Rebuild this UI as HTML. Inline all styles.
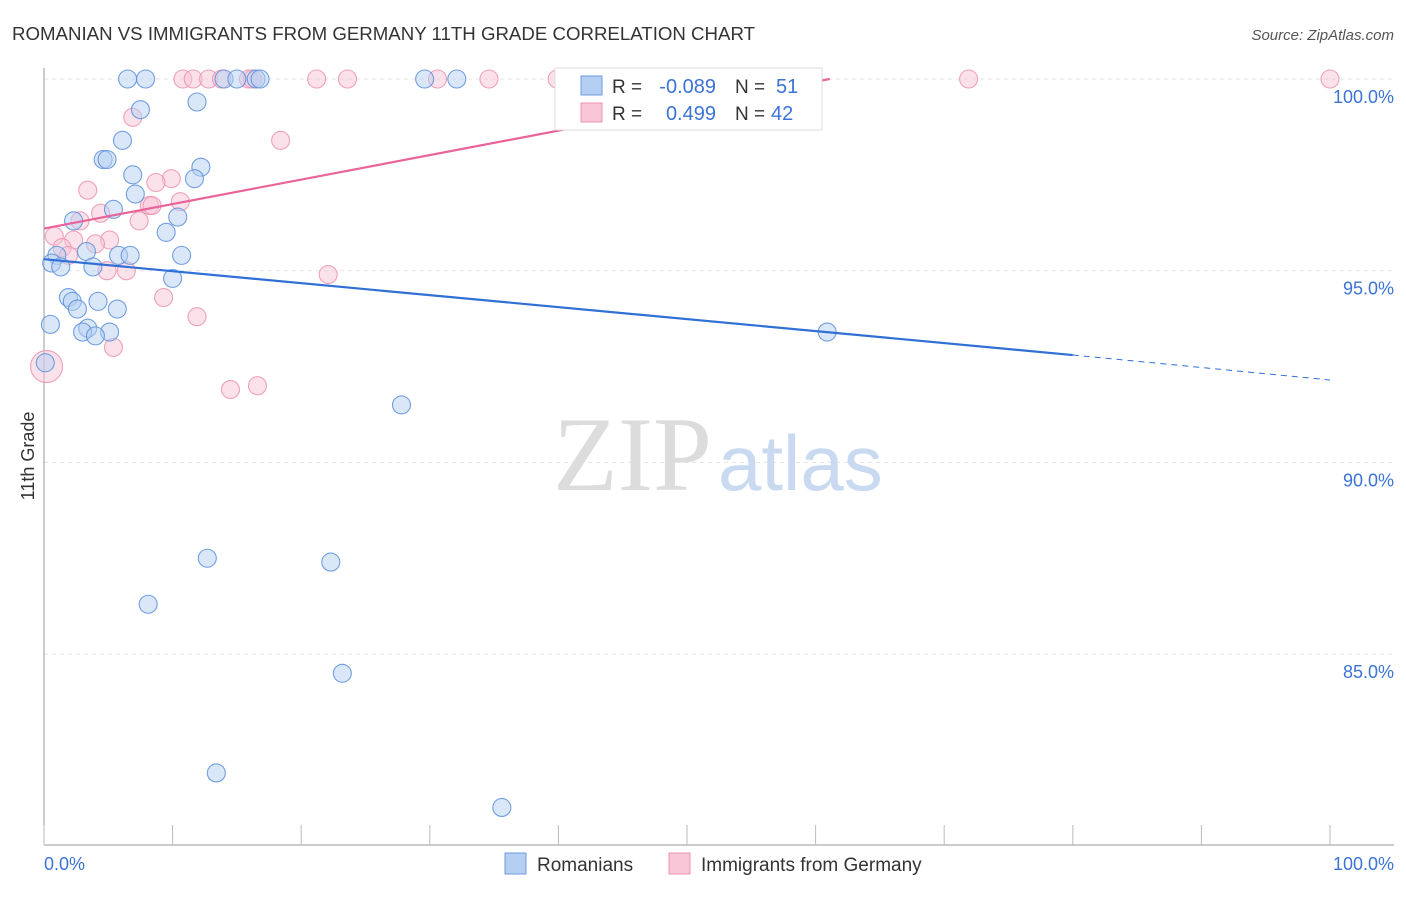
<!DOCTYPE html>
<html><head><meta charset="utf-8"><style>
body{margin:0;background:#fff;font-family:"Liberation Sans",sans-serif}
</style></head><body>
<svg width="1406" height="892" viewBox="0 0 1406 892" xmlns="http://www.w3.org/2000/svg">
<text x="12" y="40" font-size="18" fill="#333" textLength="743" lengthAdjust="spacingAndGlyphs">ROMANIAN VS IMMIGRANTS FROM GERMANY 11TH GRADE CORRELATION CHART</text>
<text x="1394" y="40" font-size="15" fill="#555" text-anchor="end" font-style="italic">Source: ZipAtlas.com</text>
<g id="grid"></g>
<text x="553" y="490" font-size="106" fill="#dcdcdc" font-family="Liberation Serif,serif">ZIP</text>
<text x="718" y="490" font-size="78" fill="#c9d9f0">atlas</text>
<line x1="44" y1="68" x2="44" y2="845" stroke="#999"/>
<line x1="44" y1="845" x2="1394" y2="845" stroke="#999"/>
<g id="ticks"></g>
<g id="pts"></g>
<g id="lines"></g>
<text x="34" y="456" font-size="18" fill="#333" transform="rotate(-90 34 456)" text-anchor="middle">11th Grade</text>
<text x="44" y="870" font-size="18" fill="#3b73d6">0.0%</text>
<text x="1394" y="870" font-size="18" fill="#3b73d6" text-anchor="end">100.0%</text>
<g>
<rect x="555" y="68" width="267" height="62" fill="#fff" stroke="#ddd"/>
<rect x="581" y="76" width="21" height="19" fill="#b5cff2" stroke="#6c9be0"/>
<rect x="581" y="103" width="21" height="19" fill="#f8c6d6" stroke="#ec92b0"/>
<text x="612" y="93" font-size="19" fill="#333">R =</text>
<text x="716" y="93" font-size="20" fill="#3b73d6" text-anchor="end">-0.089</text>
<text x="735" y="93" font-size="19" fill="#333">N =</text>
<text x="776" y="93" font-size="20" fill="#3b73d6">51</text>
<text x="612" y="120" font-size="19" fill="#333">R =</text>
<text x="716" y="120" font-size="20" fill="#3b73d6" text-anchor="end">0.499</text>
<text x="735" y="120" font-size="19" fill="#333">N =</text>
<text x="771" y="120" font-size="20" fill="#3b73d6">42</text>
</g>
<g>
<rect x="505" y="853" width="21" height="21" fill="#b5cff2" stroke="#6c9be0"/>
<text x="537" y="871" font-size="19" fill="#333">Romanians</text>
<rect x="669" y="853" width="21" height="21" fill="#f8c6d6" stroke="#ec92b0"/>
<text x="701" y="871" font-size="19" fill="#333">Immigrants from Germany</text>
</g>
</svg>
<script>
const yTicks=[100,95,90,85];
const xTickVals=[0,10,20,30,40,50,60,70,80,90,100];
const blueX=[6.5,7.9,14,15,16.5,16.8,29.6,32.1,7.5,11.9,6.1,4.6,4.9,12.2,6.9,11.7,7.1,5.4,10.4,2.3,9.5,1,3.3,5.8,6.7,10.7,0.6,1.3,3.8,10,1.9,2.2,4.2,2.6,5.7,0.5,3.4,3,5.1,4,0.1,60.9,27.8,12.7,22.3,8.1,23.2,13.4,35.6];
const blueY=[100,100,100,100,100,100,100,100,99.2,99.4,98.4,97.9,97.9,97.7,97.5,97.4,97,96.6,96.4,96.3,96,95.4,95.5,95.4,95.4,95.4,95.2,95.1,95.1,94.8,94.3,94.2,94.2,94,94,93.6,93.5,93.4,93.4,93.3,92.6,93.4,91.5,87.5,87.4,86.3,84.5,81.9,81];
const pinkX=[10.8,11.6,12.8,13.8,15.9,16.2,21.2,23.6,30.6,34.6,39.9,47.8,71.9,100,6.9,18.4,3.4,9.9,8.7,8.2,10.6,8.4,4.4,2.8,7.4,0.8,5.1,2.3,4,1.4,1.9,6.4,4.9,22.1,9.3,11.9,5.4,14.5,16.6,0.2];
const pinkY=[100,100,100,100,100,100,100,100,100,100,100,100,100,100,99,98.4,97.1,97.4,97.3,96.7,96.8,96.7,96.5,96.3,96.3,95.9,95.8,95.8,95.7,95.6,95.4,95,95,94.9,94.3,93.8,93,91.9,92,92.5];
const blueTrend=[[0,95.3],[80,92.8],[100,92.15]];
const pinkTrend=[[0,96.1],[61.1,100]];
const X=v=>44+v*12.86, Y=v=>79+(100-v)*38.34;
const NS='http://www.w3.org/2000/svg';
function mk(t,a,p){const e=document.createElementNS(NS,t);for(const k in a)e.setAttribute(k,a[k]);document.getElementById(p).appendChild(e);return e;}
yTicks.forEach(v=>{
 const l=mk('line',{x1:44,x2:1394,y1:Y(v),y2:Y(v),stroke:'#e3e3e3','stroke-dasharray':'4,4'},'grid');
 
 
 const t=mk('text',{x:1394,y:Y(v)+24,'font-size':18,fill:'#3b73d6','text-anchor':'end'},'grid');
 t.textContent=v.toFixed(1)+'%';
 
 
});
xTickVals.forEach(v=>{
 const l=mk('line',{x1:X(v),x2:X(v),y1:825,y2:845,stroke:'#bbb'},'ticks');
 
 
});
function dots(xs,ys,fill,stroke,name){
 xs.forEach((x,i)=>{
  const big=(i===xs.length-1&&x<0.5);
  const c=mk('circle',{cx:X(x),cy:Y(ys[i]),r:big?16:9,fill:fill,'fill-opacity':0.5,stroke:stroke,'stroke-width':1.1,'stroke-opacity':0.85},'pts');
  
  
 });
}
dots(pinkX,pinkY,'#f8c6d6','#ec92b0','germany-point');
dots(blueX,blueY,'#b5cff2','#5b8fdc','romanian-point');
let l=mk('line',{x1:X(blueTrend[0][0]),y1:Y(blueTrend[0][1]),x2:X(blueTrend[1][0]),y2:Y(blueTrend[1][1]),stroke:'#2f6fd6','stroke-width':2.2},'lines');


l=mk('line',{x1:X(blueTrend[1][0]),y1:Y(blueTrend[1][1]),x2:X(blueTrend[2][0]),y2:Y(blueTrend[2][1]),stroke:'#2f6fd6','stroke-width':1,'stroke-dasharray':'6,5'},'lines');


l=mk('line',{x1:X(pinkTrend[0][0]),y1:Y(pinkTrend[0][1]),x2:X(pinkTrend[1][0]),y2:Y(pinkTrend[1][1]),stroke:'#e8649a','stroke-width':2.2},'lines');


</script>
</body></html>
